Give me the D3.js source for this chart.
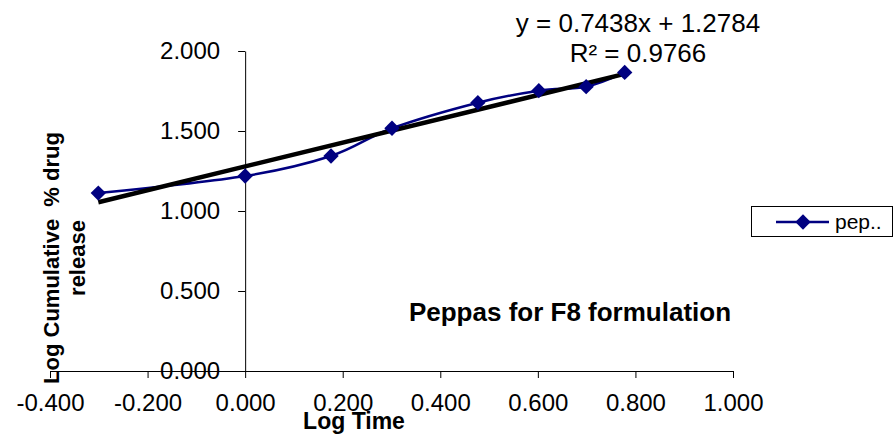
<!DOCTYPE html>
<html>
<head>
<meta charset="utf-8">
<script src="https://cdn.jsdelivr.net/npm/d3@7"></script>
<style>
  body { margin: 0; background: #fff; }
  svg { display: block; font-family: Arial, "Liberation Sans", sans-serif; }
</style>
</head>
<body>
<svg id="chart"></svg>
<script>
// log time vs log cumulative % drug release (F8)
const logTime = [-0.301, 0.000, 0.176, 0.301, 0.477, 0.602, 0.699, 0.778];
const logRelease = [1.112, 1.219, 1.344, 1.517, 1.677, 1.752, 1.777, 1.866];
const trendCoef = [0.7438, 1.2784]; // slope, intercept
const rSquared = 0.9766;
const xTicks = [-0.4, -0.2, 0, 0.2, 0.4, 0.6, 0.8, 1.0];
const yTicks = [0, 0.5, 1.0, 1.5, 2.0];
const seriesName = 'pep..';

const width = 896, height = 436;
const svg = d3.select('#chart').attr('width', width).attr('height', height);

const x = d3.scaleLinear().domain([-0.4, 1.0]).range([50, 733]);
const y = d3.scaleLinear().domain([0, 2.0]).range([371, 51]);
const fmt = d => d.toFixed(3);

// axes cross at zero
svg.append('g')
    .attr('transform', `translate(0,${y(0)})`)
    .call(d3.axisBottom(x).tickValues(xTicks).tickFormat(fmt).tickSize(7).tickSizeOuter(0).tickPadding(16))
    .call(g => g.select('.domain').attr('stroke', '#000'))
    .call(g => g.selectAll('text').attr('font-size', 24).attr('fill', '#000').attr('font-family', 'Arial, "Liberation Sans", sans-serif'));

svg.append('g')
    .attr('transform', `translate(${x(0)},0)`)
    .call(d3.axisLeft(y).tickValues(yTicks).tickFormat(fmt).tickSize(7).tickSizeOuter(0).tickPadding(18))
    .call(g => g.select('.domain').attr('stroke', '#000'))
    .call(g => g.selectAll('text').attr('font-size', 24).attr('fill', '#000').attr('font-family', 'Arial, "Liberation Sans", sans-serif'));

// smoothed series line
const pts = logTime.map((t, i) => [t, logRelease[i]]);
const line = d3.line().x(d => x(d[0])).y(d => y(d[1])).curve(d3.curveCardinal.tension(0));
svg.append('path')
    .datum(pts)
    .attr('d', line)
    .attr('fill', 'none')
    .attr('stroke', '#000080')
    .attr('stroke-width', 2.5);

// linear trendline
const xMin = d3.min(logTime), xMax = d3.max(logTime);
svg.append('line')
    .attr('x1', x(xMin)).attr('y1', y(trendCoef[0] * xMin + trendCoef[1]))
    .attr('x2', x(xMax)).attr('y2', y(trendCoef[0] * xMax + trendCoef[1]))
    .attr('stroke', '#000')
    .attr('stroke-width', 4.5);

const diamond = d3.symbol().type(d3.symbolDiamond2).size(150);
svg.selectAll('.pt')
    .data(pts)
    .enter()
    .append('path')
    .attr('class', 'pt')
    .attr('transform', d => `translate(${x(d[0])},${y(d[1])})`)
    .attr('d', diamond)
    .attr('fill', '#000080');

// equation
svg.append('text')
    .attr('x', 638).attr('y', 32)
    .attr('text-anchor', 'middle')
    .attr('font-size', 26)
    .text(`y = ${trendCoef[0]}x + ${trendCoef[1]}`);
svg.append('text')
    .attr('x', 638).attr('y', 62)
    .attr('text-anchor', 'middle')
    .attr('font-size', 26)
    .text(`R² = ${rSquared}`);

// inner title
svg.append('text')
    .attr('x', 570).attr('y', 321)
    .attr('text-anchor', 'middle')
    .attr('font-size', 26)
    .attr('font-weight', 'bold')
    .text('Peppas for F8 formulation');

// axis titles
svg.append('text')
    .attr('x', 354).attr('y', 429)
    .attr('text-anchor', 'middle')
    .attr('font-size', 23)
    .attr('font-weight', 'bold')
    .text('Log Time');

const yTitle = svg.append('text')
    .attr('transform', 'translate(59,258) rotate(-90)')
    .attr('text-anchor', 'middle')
    .attr('font-size', 22)
    .attr('font-weight', 'bold');
yTitle.append('tspan').attr('x', 0).attr('y', 0).text('Log Cumulative \u00a0% drug');
yTitle.append('tspan').attr('x', 0).attr('y', 26).text('release');

// legend
const lg = svg.append('g');
lg.append('rect')
    .attr('x', 751.5).attr('y', 206.5)
    .attr('width', 141).attr('height', 30)
    .attr('fill', '#fff')
    .attr('stroke', '#000');
lg.append('line')
    .attr('x1', 776).attr('x2', 829).attr('y1', 222).attr('y2', 222)
    .attr('stroke', '#000080').attr('stroke-width', 2.5);
lg.append('path')
    .attr('transform', 'translate(803,222)')
    .attr('d', diamond)
    .attr('fill', '#000080');
lg.append('text')
    .attr('x', 835).attr('y', 229)
    .attr('font-size', 21)
    .text(seriesName);
</script>
</body>
</html>
